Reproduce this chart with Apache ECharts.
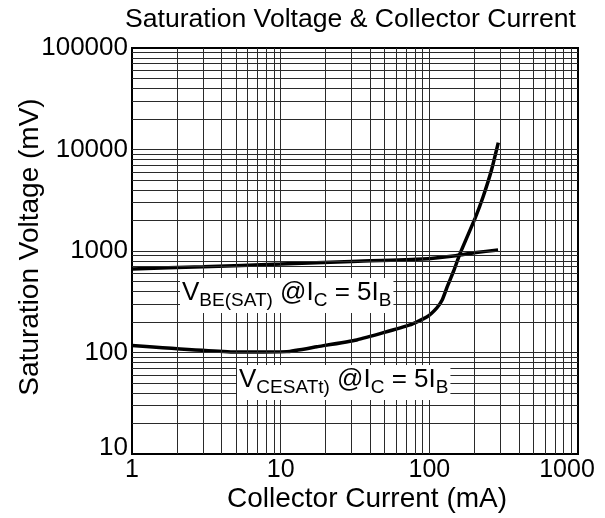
<!DOCTYPE html>
<html><head><meta charset="utf-8">
<script src="https://cdn.jsdelivr.net/npm/echarts@6/dist/echarts.min.js"></script>
<style>html,body{margin:0;padding:0;background:#fff}#c{width:605px;height:518px}</style>
</head><body><div id="c"></div>
<script>
const xTickLabels = ['1', '10', '100', '1000'];
const yTickLabels = ['10', '100', '1000', '10000', '100000'];
const xGridValues = [2,3,4,5,6,7,8,9,10,20,30,40,50,60,70,80,90,100,200,300,400,500,600,700,800,900];
const yGridValues = [20,30,40,50,60,70,80,90,100,200,300,400,500,600,700,800,900,1000,2000,3000,4000,5000,6000,7000,8000,9000,10000,20000,30000,40000,50000,60000,70000,80000,90000];
const vbeCurrent = [1, 3, 10, 30, 90, 150, 200, 290];
const vbeVoltage = [665, 700, 743, 790, 834, 900, 960, 1024];
const vceCurrent = [1, 5, 11, 17.5, 32.5, 74, 96.6, 112, 122, 132, 146.6, 161, 203, 230, 262, 291];
const vceVoltage = [117, 101, 102, 114, 133, 187, 225, 274, 329, 445, 650, 948, 2097, 3427, 6280, 11670];

const chart = echarts.init(document.getElementById('c'));
const FONT = 'Liberation Sans, Arial, Helvetica, sans-serif';
const zip = (a, b) => a.map((v, i) => [v, b[i]]);

chart.setOption({
  animation: false,
  backgroundColor: '#fff',
  textStyle: { fontFamily: FONT, color: '#000' },
  title: {
    text: 'Saturation Voltage & Collector Current',
    left: 120, top: 1,
    textStyle: { fontFamily: FONT, fontSize: 26.6, fontWeight: 'normal', color: '#000' }
  },
  grid: { left: 132, top: 48, width: 446, height: 406, outerBoundsMode: 'none', containLabel: false,
          show: true, borderColor: '#000', borderWidth: 2, backgroundColor: 'transparent' },
  xAxis: {
    type: 'log', logBase: 10, min: 1, max: 1000,
    name: 'Collector Current (mA)', nameLocation: 'middle', nameGap: 31, nameMoveOverlap: false,
    nameTextStyle: { fontFamily: FONT, fontSize: 28, color: '#000', padding: [0, 0, 0, 24] },
    axisLine: { show: true, lineStyle: { color: '#000', width: 2 } },
    axisTick: { show: false },
    splitLine: { show: false },
    axisLabel: {
      fontFamily: FONT, fontSize: 25, color: '#000', margin: 4,
      formatter: v => {
        const s = xTickLabels[Math.round(Math.log10(v))];
        return v >= 1000 ? '{r|' + s + '}' : s;
      },
      rich: { r: { fontFamily: FONT, fontSize: 25, color: '#000', padding: [0, 22, 0, 0] } }
    }
  },
  yAxis: {
    type: 'log', logBase: 10, min: 10, max: 100000,
    name: 'Saturation Voltage (mV)', nameLocation: 'middle', nameGap: 88, nameRotate: 90, nameMoveOverlap: false,
    nameTextStyle: { fontFamily: FONT, fontSize: 28, color: '#000', padding: [0, 0, 0, 8] },
    axisLine: { show: true, lineStyle: { color: '#000', width: 2 } },
    axisTick: { show: false },
    splitLine: { show: false },
    axisLabel: {
      fontFamily: FONT, fontSize: 26, color: '#000', margin: 4,
      formatter: v => {
        const s = yTickLabels[Math.round(Math.log10(v)) - 1];
        return v <= 10 ? '{b|' + s + '}' : s;
      },
      rich: { b: { fontFamily: FONT, fontSize: 26, color: '#000', padding: [0, 0, 12, 0] } }
    }
  },
  series: [
    {
      type: 'line', data: [[1, 10]], symbol: 'none', lineStyle: { opacity: 0 }, z: 1, silent: true,
      markLine: {
        silent: true, symbol: ['none', 'none'], label: { show: false },
        lineStyle: { color: '#2a2a2a', width: 1, type: 'solid' },
        emphasis: { disabled: true },
        data: xGridValues.map(v => ({ xAxis: v })).concat(yGridValues.map(v => ({ yAxis: v })))
      }
    },
    {
      name: 'VBE', type: 'line', data: zip(vbeCurrent, vbeVoltage), symbol: 'none', z: 3,
      smooth: 0.15, lineStyle: { color: '#000', width: 3.5 }
    },
    {
      name: 'VCE', type: 'line', data: zip(vceCurrent, vceVoltage), symbol: 'none', z: 3,
      smooth: 0.15, lineStyle: { color: '#000', width: 3.5 }
    }
  ],
  graphic: [
    {
      type: 'text', left: 180, top: 278, z: 10,
      style: {
        text: '{v|V}{s|BE(SAT)}{v| @I}{s|C}{v| = 5I}{s|B}',
        backgroundColor: '#fff', padding: [2, 2, 3, 2],
        rich: {
          v: { fontFamily: FONT, fontSize: 26, color: '#000', lineHeight: 30, verticalAlign: 'top' },
          s: { fontFamily: FONT, fontSize: 19, color: '#000', lineHeight: 19, verticalAlign: 'bottom' }
        }
      }
    },
    {
      type: 'text', left: 237, top: 365, z: 10,
      style: {
        text: '{v|V}{s|CESATt)}{v| @I}{s|C}{v| = 5I}{s|B}',
        backgroundColor: '#fff', padding: [2, 2, 3, 2],
        rich: {
          v: { fontFamily: FONT, fontSize: 26, color: '#000', lineHeight: 30, verticalAlign: 'top' },
          s: { fontFamily: FONT, fontSize: 19, color: '#000', lineHeight: 19, verticalAlign: 'bottom' }
        }
      }
    }
  ]
});
</script></body></html>
